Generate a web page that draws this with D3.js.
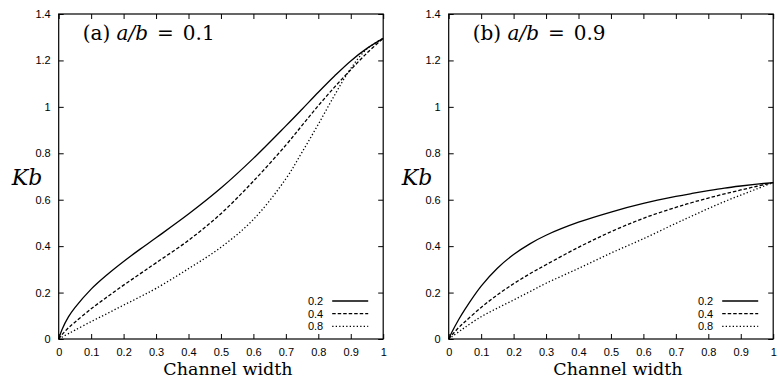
<!DOCTYPE html>
<html>
<head>
<meta charset="utf-8">
<script src="https://cdn.jsdelivr.net/npm/d3@7"></script>
<style>
  body { margin: 0; background: #fff; }
  .tick text { font-family: "Liberation Sans", Arial, sans-serif; font-size: 11px; fill: #000; }
  .tick line { stroke: #000; stroke-width: 1; }
  .domain { display: none; }
  .serif { font-family: "DejaVu Serif", serif; fill: #000; }
  .leg { font-family: "Liberation Sans", Arial, sans-serif; font-size: 11px; fill: #000; }
</style>
</head>
<body>
<div id="chart"></div>
<script>
// channel width samples
var xA = [0, 0.01, 0.03, 0.05, 0.1, 0.15, 0.2, 0.25, 0.3, 0.4, 0.5, 0.6, 0.7, 0.75, 0.8, 0.85, 0.9, 0.95, 1];
// panel (a) a/b = 0.1
var a02 = [0, 0.04, 0.095, 0.135, 0.215, 0.278, 0.334, 0.386, 0.436, 0.538, 0.65, 0.778, 0.918, 0.99, 1.063, 1.133, 1.198, 1.252, 1.295];
var a04 = [0, 0.018, 0.048, 0.072, 0.13, 0.182, 0.232, 0.28, 0.328, 0.425, 0.54, 0.68, 0.835, 0.92, 1.005, 1.085, 1.16, 1.232, 1.295];
var a08 = [0, 0.008, 0.023, 0.038, 0.075, 0.11, 0.146, 0.181, 0.218, 0.303, 0.395, 0.515, 0.69, 0.805, 0.925, 1.05, 1.165, 1.25, 1.295];
// panel (b) a/b = 0.9
var b02 = [0, 0.03, 0.082, 0.128, 0.228, 0.305, 0.364, 0.41, 0.447, 0.503, 0.547, 0.584, 0.614, 0.627, 0.639, 0.65, 0.659, 0.667, 0.674];
var b04 = [0, 0.017, 0.048, 0.074, 0.136, 0.19, 0.238, 0.281, 0.32, 0.395, 0.462, 0.52, 0.567, 0.588, 0.607, 0.625, 0.642, 0.658, 0.674];
var b08 = [0, 0.01, 0.03, 0.05, 0.096, 0.133, 0.168, 0.204, 0.24, 0.304, 0.37, 0.432, 0.498, 0.53, 0.562, 0.592, 0.62, 0.647, 0.674];

var seriesNames = ["0.2", "0.4", "0.8"];
var dashes = [null, "3.5,2", "1.3,2.2"];
var xTicks = [0, 0.1, 0.2, 0.3, 0.4, 0.5, 0.6, 0.7, 0.8, 0.9, 1];
var xTickLabels = ["0", "0.1", "0.2", "0.3", "0.4", "0.5", "0.6", "0.7", "0.8", "0.9", "1"];
var yTicks = [0, 0.2, 0.4, 0.6, 0.8, 1, 1.2, 1.4];
var yTickLabels = ["0", "0.2", "0.4", "0.6", "0.8", "1", "1.2", "1.4"];

var panels = [
    {label: "(a)", ratio: "0.1", series: [a02, a04, a08], ox: 0},
    {label: "(b)", ratio: "0.9", series: [b02, b04, b08], ox: 390}
];

var W = 778, H = 380;
var margin = {top: 14, left: 58.7};
var pw = 324.5, ph = 325;

var svg = d3.select("#chart").append("svg")
    .attr("width", W)
    .attr("height", H);

var x = d3.scaleLinear().domain([0, 1]).range([0, pw]);
var y = d3.scaleLinear().domain([0, 1.4]).range([ph, 0]);

var line = d3.line()
    .curve(d3.curveCatmullRom.alpha(0.5))
    .x(function (d, i) { return x(xA[i]); })
    .y(function (d) { return y(d); });

panels.forEach(function (p) {
    var g = svg.append("g")
        .attr("transform", "translate(" + (p.ox + margin.left) + "," + margin.top + ")");

    // axes, ticks pointing inward and mirrored on top/right
    g.append("g")
        .attr("transform", "translate(0," + ph + ")")
        .call(d3.axisBottom(x).tickValues(xTicks)
            .tickFormat(function (d, i) { return xTickLabels[i]; })
            .tickSize(-5).tickPadding(9));
    g.append("g")
        .call(d3.axisTop(x).tickValues(xTicks).tickFormat("").tickSize(-5));
    g.append("g")
        .call(d3.axisLeft(y).tickValues(yTicks)
            .tickFormat(function (d, i) { return yTickLabels[i]; })
            .tickSize(-5).tickPadding(8));
    g.append("g")
        .attr("transform", "translate(" + pw + ",0)")
        .call(d3.axisRight(y).tickValues(yTicks).tickFormat("").tickSize(-5));

    g.append("rect")
        .attr("width", pw)
        .attr("height", ph)
        .attr("fill", "none")
        .attr("stroke", "#000")
        .attr("stroke-width", 1.2);

    // curves
    p.series.forEach(function (s, i) {
        g.append("path")
            .datum(s)
            .attr("d", line)
            .attr("fill", "none")
            .attr("stroke", "#000")
            .attr("stroke-width", 1.3)
            .attr("stroke-dasharray", dashes[i]);
    });

    // legend
    seriesNames.forEach(function (n, i) {
        var ly = 287 + i * 12.7;
        g.append("text")
            .attr("class", "leg")
            .attr("x", 264.5)
            .attr("y", ly)
            .attr("dy", "0.35em")
            .attr("text-anchor", "end")
            .text(n);
        g.append("line")
            .attr("x1", 273.5).attr("x2", 309.5)
            .attr("y1", ly).attr("y2", ly)
            .attr("stroke", "#000")
            .attr("stroke-width", 1.3)
            .attr("stroke-dasharray", dashes[i]);
    });

    // panel title
    var t = g.append("text")
        .attr("class", "serif")
        .attr("x", 24)
        .attr("y", 25.5)
        .style("font-size", "20px");
    t.append("tspan").text(p.label + " ");
    t.append("tspan").style("font-style", "italic").text("a/b");
    t.append("tspan").attr("dx", 9).text("=");
    t.append("tspan").attr("dx", 9).text(p.ratio);

    // axis labels
    g.append("text")
        .attr("class", "serif")
        .attr("x", pw / 2 + 7)
        .attr("y", ph + 36)
        .attr("text-anchor", "middle")
        .style("font-size", "17.5px")
        .text("Channel width");

    g.append("text")
        .attr("class", "serif")
        .attr("x", -47)
        .attr("y", 171)
        .style("font-size", "22px")
        .style("font-style", "italic")
        .text("Kb");
});
</script>
</body>
</html>
